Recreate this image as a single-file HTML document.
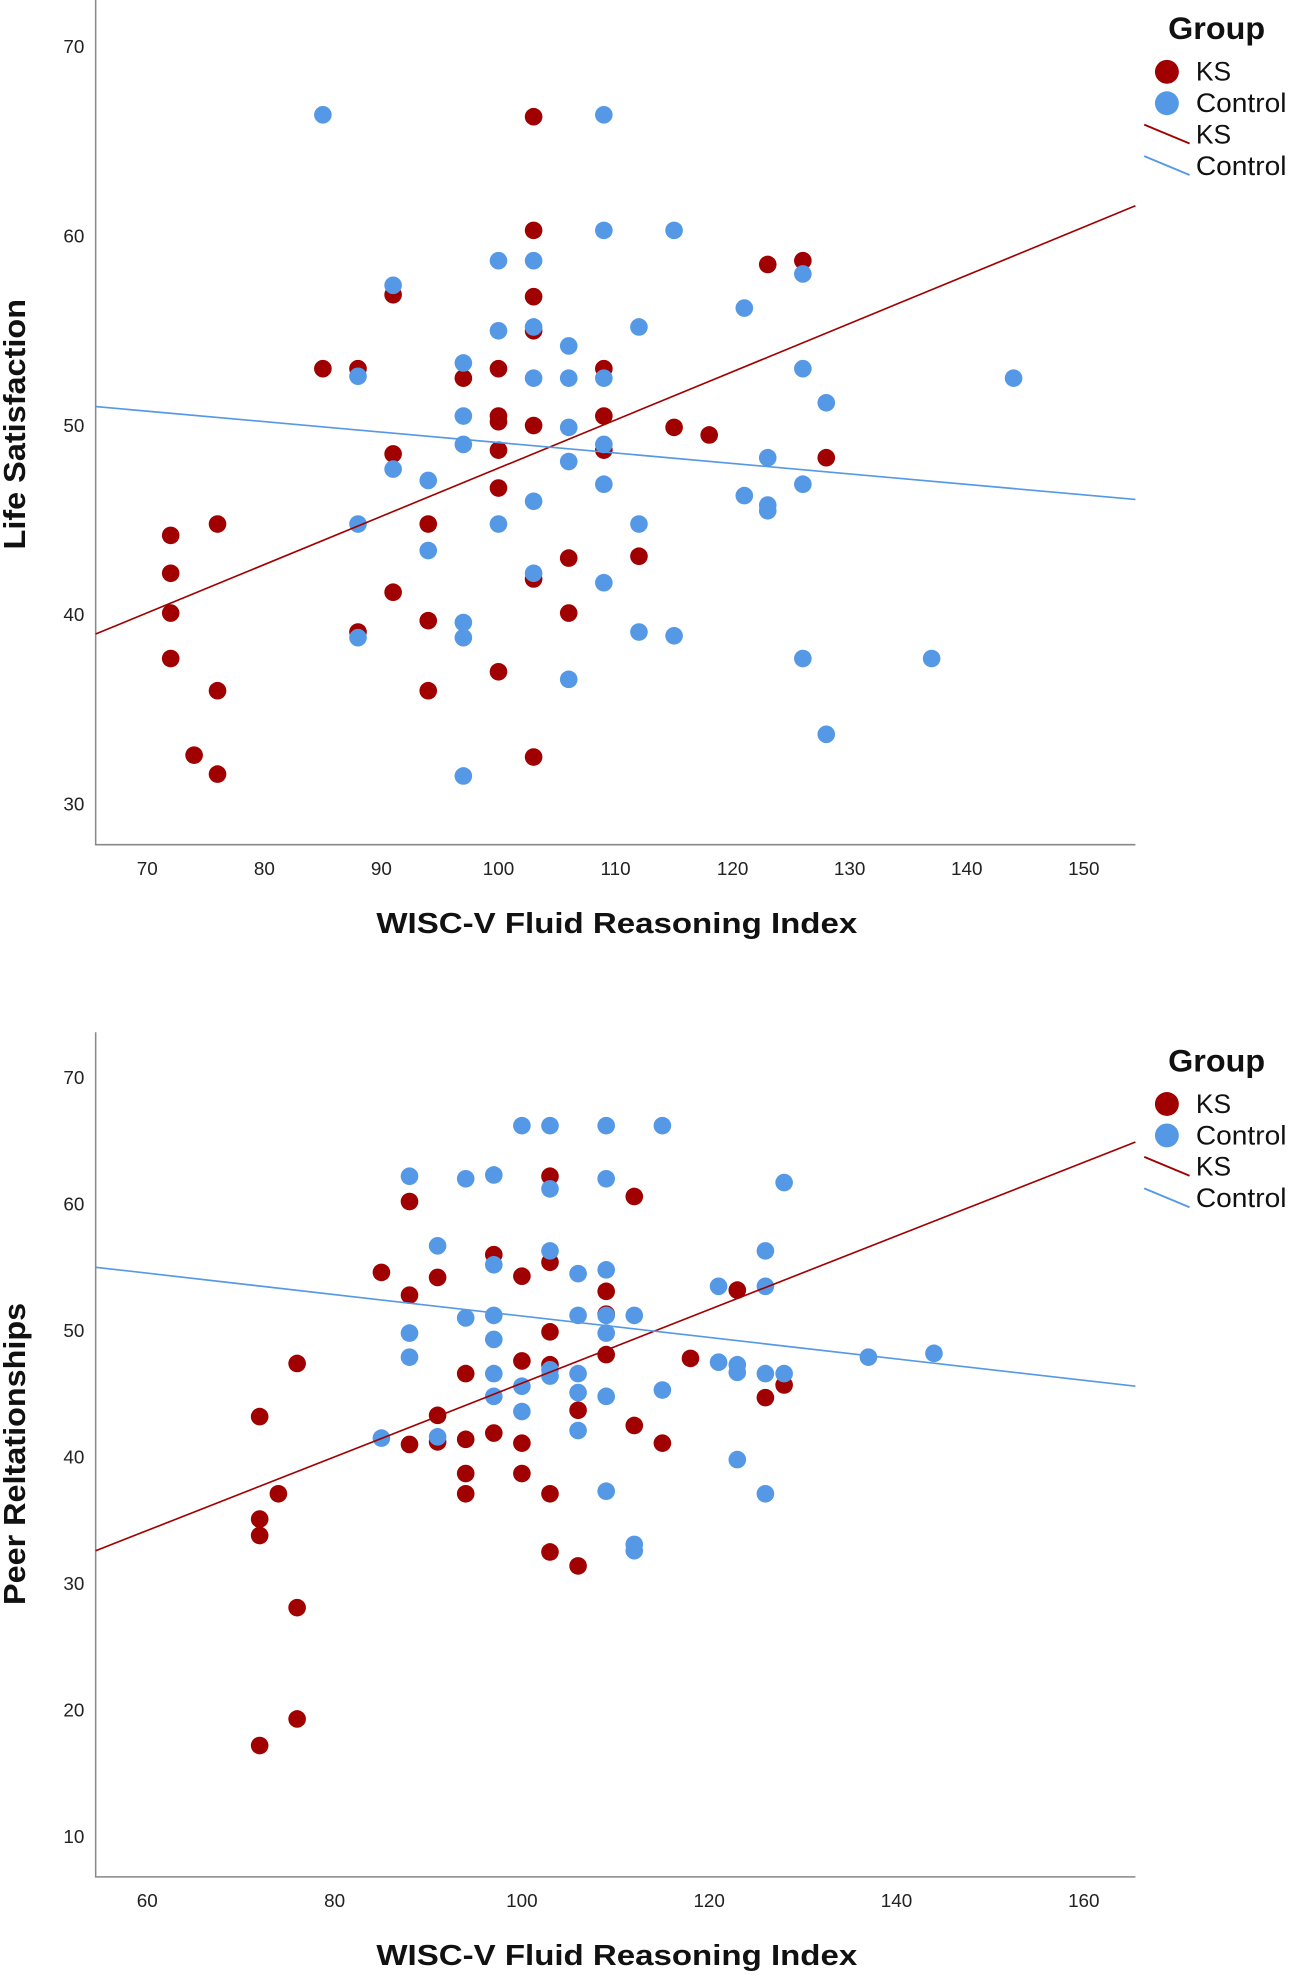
<!DOCTYPE html>
<html><head><meta charset="utf-8">
<style>
html,body{margin:0;padding:0;background:#fff;}
svg{display:block;}
text{font-family:"Liberation Sans",sans-serif;}
</style></head>
<body>
<svg id="chart" width="1289" height="1977" viewBox="0 0 1024 1570.5" xmlns="http://www.w3.org/2000/svg"></svg>
<script>
// ---- Panel 1: Life Satisfaction ----
const ls_ks_x = [72,72,72,72,76,76,74,76,85,88,88,91,91,91,94,94,94,97,100,100,100,100,100,100,103,103,103,103,103,103,103,106,106,109,109,109,112,115,118,123,126,128];
const ls_ks_y = [44.2,42.2,40.1,37.7,44.8,36,32.6,31.6,53,53,39.1,56.9,48.5,41.2,44.8,39.7,36,52.5,53,50.5,50.2,48.7,46.7,37,66.3,60.3,56.8,55,50,41.9,32.5,43,40.1,53,50.5,48.7,43.1,49.9,49.5,58.5,58.7,48.3];
const ls_ct_x = [85,88,88,88,91,91,94,94,97,97,97,97,97,97,100,100,100,103,103,103,103,103,106,106,106,106,106,109,109,109,109,109,109,112,112,112,115,115,121,121,123,123,123,126,126,126,126,128,128,137,144];
const ls_ct_y = [66.4,52.6,44.8,38.8,57.4,47.7,47.1,43.4,53.3,50.5,49,39.6,38.8,31.5,58.7,55,44.8,58.7,55.2,52.5,46,42.2,54.2,52.5,49.9,48.1,36.6,66.4,60.3,52.5,49,46.9,41.7,55.2,44.8,39.1,60.3,38.9,56.2,46.3,48.3,45.8,45.5,58,53,46.9,37.7,51.2,33.7,37.7,52.5];
const ls_fit_intercept = [22.3, 54.62]; // KS, Control
const ls_fit_slope = [0.2545, -0.0552];
const ls_xticks = [70,80,90,100,110,120,130,140,150];
const ls_yticks = [30,40,50,60,70];

// ---- Panel 2: Peer Relationships ----
const pr_ks_x = [72,72,72,72,74,76,76,76,85,88,88,88,91,91,91,94,94,94,94,97,97,100,100,100,100,103,103,103,103,103,103,106,106,109,109,109,112,112,115,118,123,126,128];
const pr_ks_y = [43.2,35.1,33.8,17.2,37.1,47.4,28.1,19.3,54.6,60.2,52.8,41,54.2,43.3,41.2,46.6,41.4,38.7,37.1,56,41.9,54.3,47.6,41.1,38.7,62.2,55.4,49.9,47.3,37.1,32.5,43.7,31.4,53.1,51.3,48.1,60.6,42.5,41.1,47.8,53.2,44.7,45.7];
const pr_ct_x = [85,88,88,88,91,91,94,94,97,97,97,97,97,97,100,100,100,103,103,103,103,103,106,106,106,106,106,109,109,109,109,109,109,109,112,112,112,115,115,121,121,123,123,123,126,126,126,126,128,128,137,144];
const pr_ct_y = [41.5,62.2,49.8,47.9,56.7,41.6,62,51,62.3,55.2,51.2,49.3,46.6,44.8,66.2,45.6,43.6,66.2,61.2,56.3,46.9,46.4,54.5,51.2,46.6,45.1,42.1,66.2,62,54.8,51.2,49.8,44.8,37.3,51.2,33.1,32.6,66.2,45.3,53.5,47.5,47.3,46.7,39.8,56.3,53.5,46.6,37.1,61.7,46.6,47.9,48.2];
const pr_fit_intercept = [16.74, 59.62];
const pr_fit_slope = [0.291, -0.0847];
const pr_xticks = [60,80,100,120,140,160];
const pr_yticks = [10,20,30,40,50,60,70];

const NS = "http://www.w3.org/2000/svg";
const svg = document.getElementById('chart');
const RED = "#a00000", BLUE = "#5599e6";
function mk(tag, attrs, parent){
  const e = document.createElementNS(NS, tag);
  for (const k in attrs) e.setAttribute(k, attrs[k]);
  (parent||svg).appendChild(e); return e;
}

function panel(cfg){
  const g = mk('g', {});
  
  
  const L = 76, R = 902, T = cfg.top, B = cfg.top + 671;
  const sx = v => cfg.px0 + (v - cfg.x0) * cfg.kx;
  const sy = v => cfg.py0 + (v - cfg.y0) * cfg.ky;
  const xmin = cfg.x0 + (L - cfg.px0) / cfg.kx;
  const xmax = cfg.x0 + (R - cfg.px0) / cfg.kx;
  const ax = mk('path', {d:`M${L},${T} L${L},${B} L${R},${B}`, fill:'none', stroke:'#888', 'stroke-width':1.2}, g);
  
  
  cfg.xt.forEach(v => {
    const t = mk('text', {x:sx(v), y:B+24, 'font-size':15, 'text-anchor':'middle', fill:'#222'}, g);
    
    
    t.textContent = v;
  });
  cfg.yt.forEach(v => {
    const t = mk('text', {x:67, y:sy(v)+5, 'font-size':15, 'text-anchor':'end', fill:'#222'}, g);
    
    
    t.textContent = v;
  });
  const xtitle = mk('text', {x:490, y:B+70, 'font-size':23, 'font-weight':'bold', 'text-anchor':'middle', fill:'#111', textLength:382, lengthAdjust:'spacingAndGlyphs'}, g);
  
  
  xtitle.textContent = 'WISC-V Fluid Reasoning Index';
  const cy = cfg.ytitleY;
  const ytitle = mk('text', {x:20, y:cy, 'font-size':24, 'font-weight':'bold', 'text-anchor':'middle', fill:'#111', transform:`rotate(-90 20 ${cy})`, textLength:cfg.ytitleLen, lengthAdjust:'spacingAndGlyphs'}, g);
  
  
  ytitle.textContent = cfg.ytitle;
  function pts(xs, ys, col, nm){
    xs.forEach((x, i) => {
      const c = mk('circle', {cx:sx(x), cy:sy(ys[i]), r:7, fill:col}, g);
      
      
    });
  }
  pts(cfg.ksx, cfg.ksy, RED, 'ks-point');
  pts(cfg.ctx, cfg.cty, BLUE, 'control-point');
  [RED, BLUE].forEach((col, i) => {
    const f = v => cfg.b0[i] + cfg.b1[i] * v;
    const ln = mk('line', {x1:sx(xmin), y1:sy(f(xmin)), x2:sx(xmax), y2:sy(f(xmax)), stroke:col, 'stroke-width':1.3}, g);
    
    
  });
  const lg = mk('g', {}, g);
  
  
  const lt = mk('text', {x:928, y:T+31, 'font-size':25, 'font-weight':'bold', fill:'#111', textLength:77, lengthAdjust:'spacingAndGlyphs'}, lg);
  
  
  lt.textContent = 'Group';
  const items = [['KS', RED, 'dot'], ['Control', BLUE, 'dot'], ['KS', RED, 'line'], ['Control', BLUE, 'line']];
  items.forEach((it, i) => {
    const yy = T + 57 + i * 25;
    if (it[2] === 'dot') {
      const d = mk('circle', {cx:927, cy:yy, r:9.5, fill:it[1]}, lg);
      
      
    } else {
      const l = mk('line', {x1:909, y1:yy-8, x2:945, y2:yy+7, stroke:it[1], 'stroke-width':1.5}, lg);
      
      
    }
    const attrs = {x:950, y:yy+7, 'font-size':21, fill:'#111'};
    if (it[0] === 'Control') { attrs.textLength = 72; attrs.lengthAdjust = 'spacingAndGlyphs'; }
    const tx = mk('text', attrs, lg);
    
    
    tx.textContent = it[0];
  });
}

panel({name:'life-satisfaction-panel', top:0, px0:117, x0:70, kx:9.3, py0:37, y0:70, ky:-15.05,
  xt:ls_xticks, yt:ls_yticks, ytitle:'Life Satisfaction', ytitleY:337, ytitleLen:199,
  ksx:ls_ks_x, ksy:ls_ks_y, ctx:ls_ct_x, cty:ls_ct_y, b0:ls_fit_intercept, b1:ls_fit_slope});
panel({name:'peer-relationships-panel', top:820, px0:117, x0:60, kx:7.44, py0:856, y0:70, ky:-10.05,
  xt:pr_xticks, yt:pr_yticks, ytitle:'Peer Reltationships', ytitleY:1155, ytitleLen:240,
  ksx:pr_ks_x, ksy:pr_ks_y, ctx:pr_ct_x, cty:pr_ct_y, b0:pr_fit_intercept, b1:pr_fit_slope});
</script>
</body></html>
